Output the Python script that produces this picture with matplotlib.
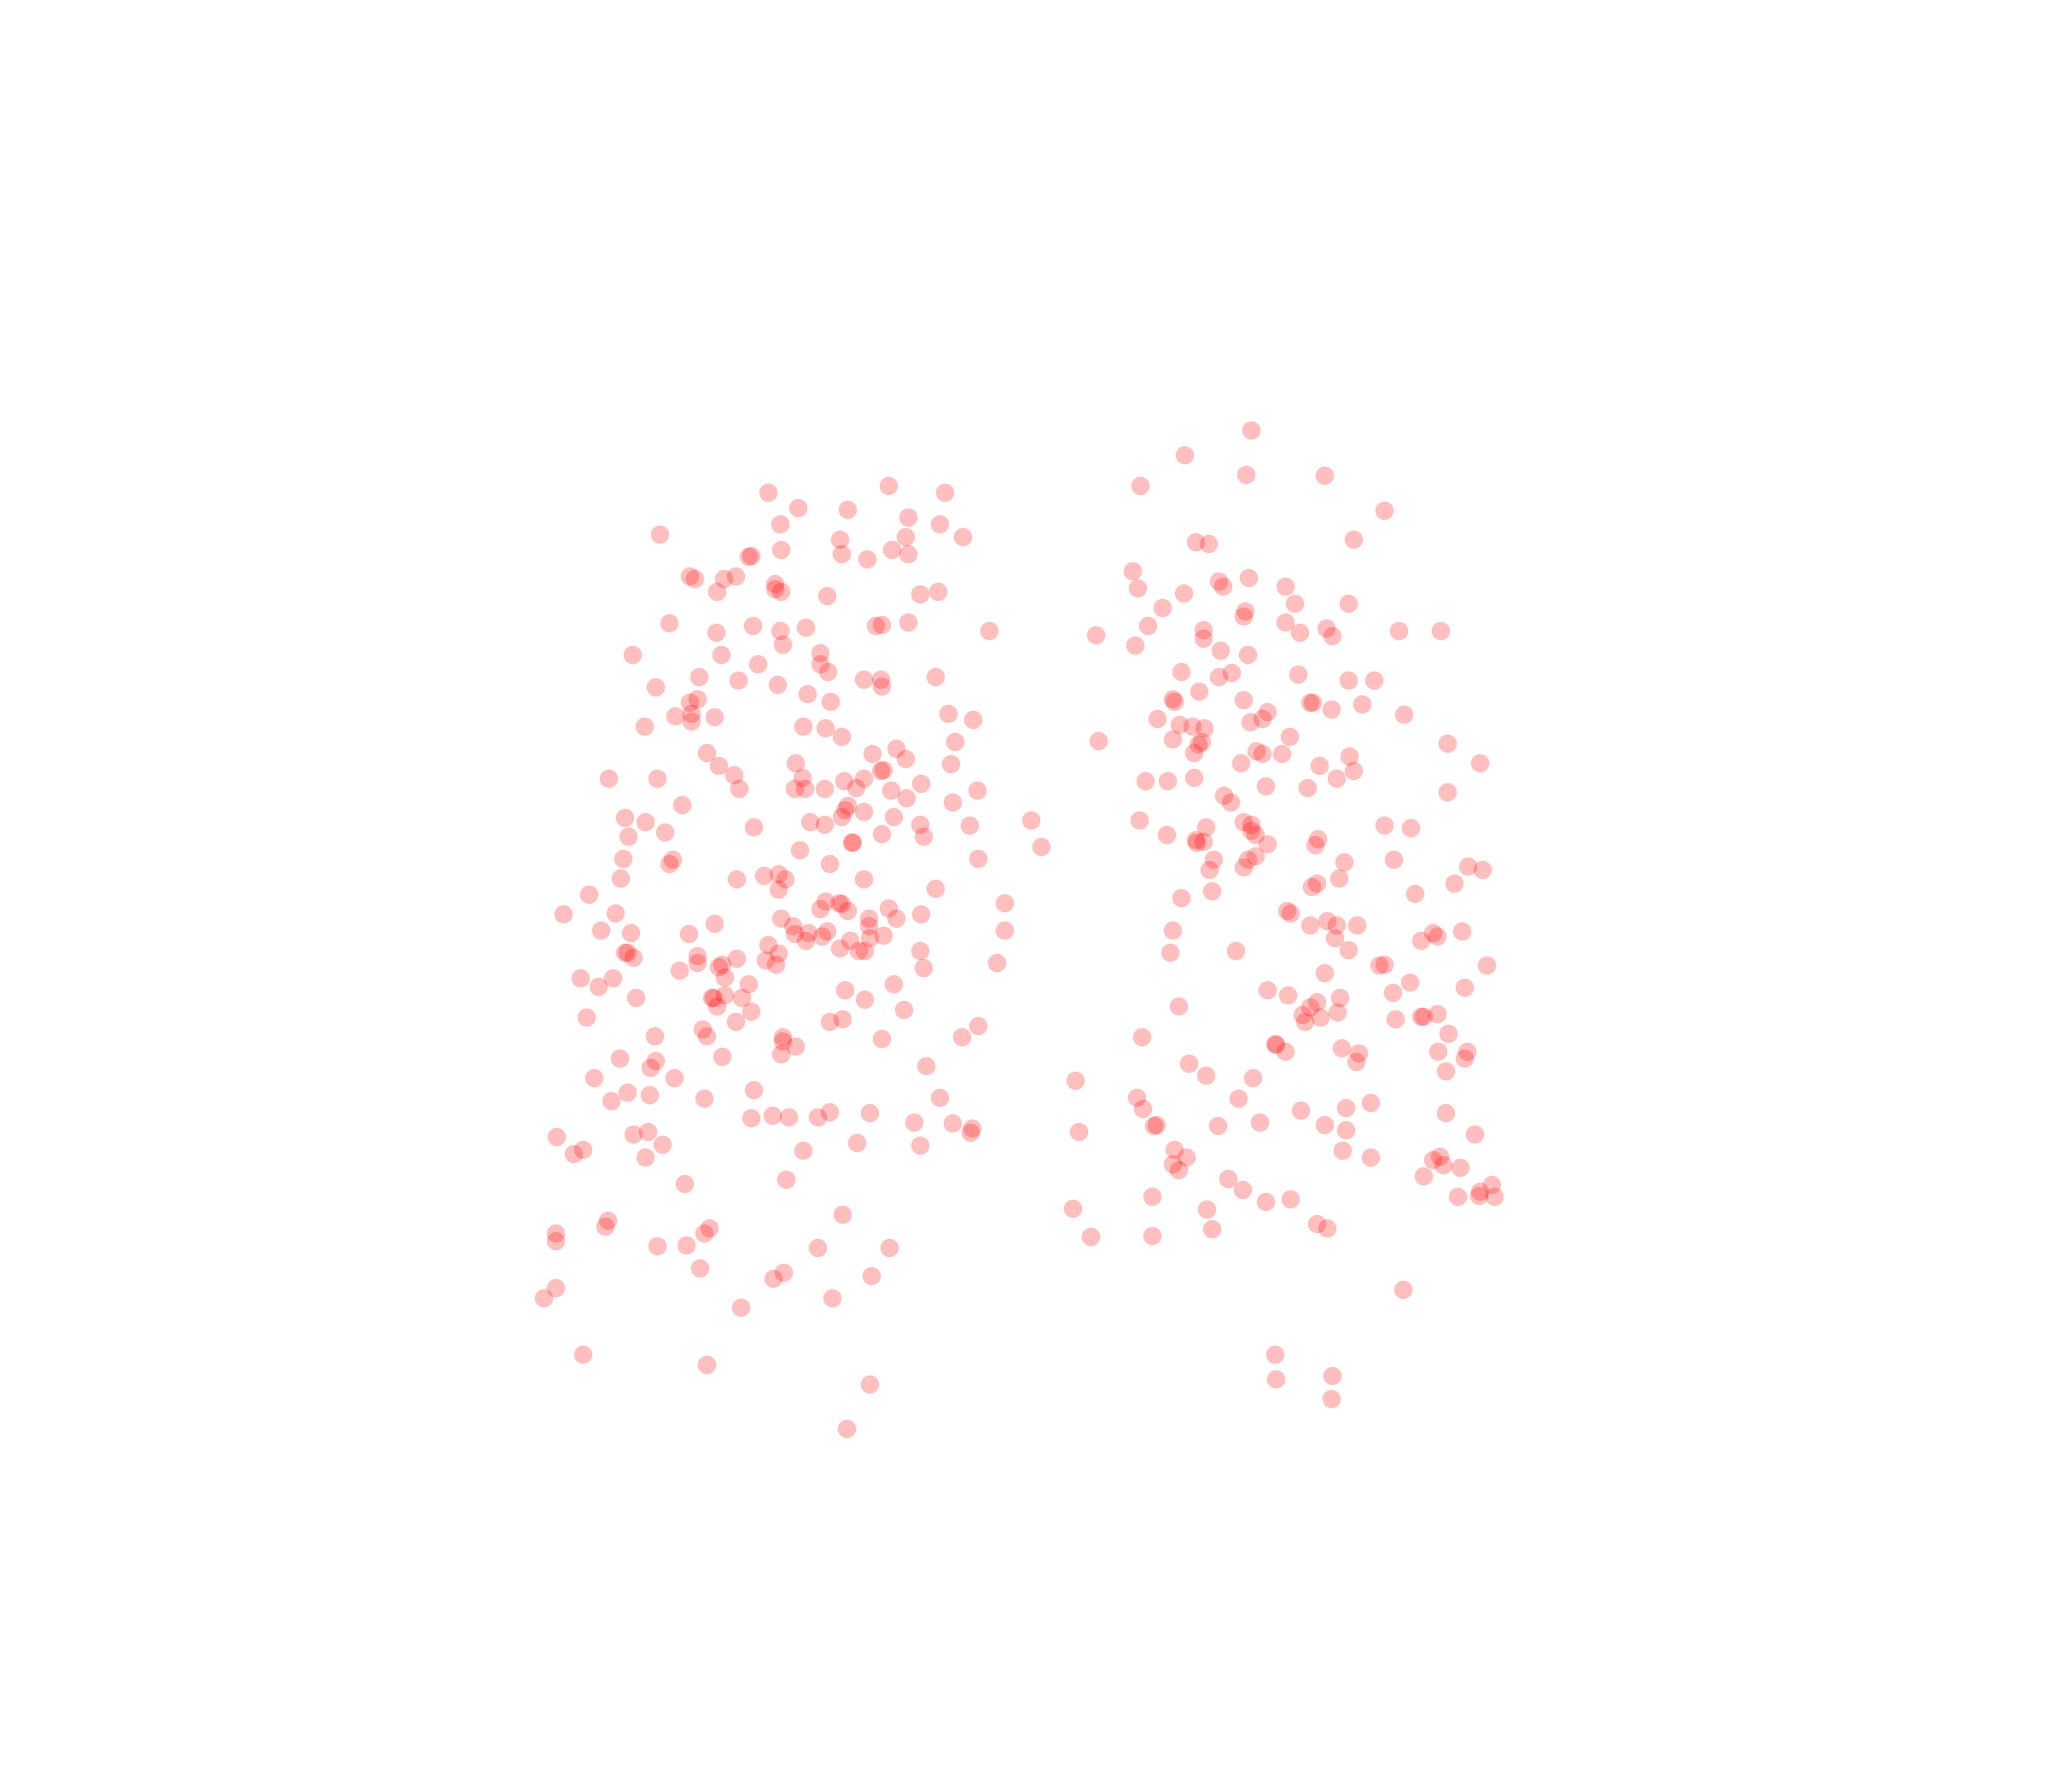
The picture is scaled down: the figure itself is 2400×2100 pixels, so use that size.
import matplotlib
matplotlib.use("Agg")
import matplotlib.pyplot as plt

left_points = [(588,377),(611,389),(649,390),(680,372),(723,377),(597,401),(695,396),(719,401),(505,409),(643,413),(693,411),(737,411),(598,421),(575,425),(573,426),(644,424),(664,428),(683,421),(695,424),(528,441),(532,443),(554,443),(563,441),(593,447),(593,451),(598,453),(549,453),(633,456),(704,455),(718,453),(512,477),(576,479),(617,480),(597,483),(548,484),(670,479),(675,478),(695,476),(757,483),(599,493),(484,501),(552,501),(628,500),(628,508),(580,508),(634,514),(535,518),(502,526),(565,521),(595,524),(661,520),(674,520),(675,525),(716,518),(618,531),(534,535),(528,538),(636,537),(529,546),(517,548),(529,552),(547,549),(493,556),(615,556),(632,557),(644,564),(726,546),(745,551),(731,568),(541,576),(686,573),(668,577),(693,581),(609,584),(550,586),(562,593),(676,589),(674,590),(728,585),(466,596),(503,596),(614,595),(608,604),(616,604),(566,604),(631,604),(646,598),(661,596),(655,603),(682,605),(705,600),(748,605),(694,611),(729,614),(522,616),(649,617),(647,620),(661,621),(644,625),(478,626),(494,629),(620,629),(631,631),(684,625),(704,631),(742,632),(577,633),(789,628),(481,640),(509,637),(675,638),(707,640),(652,645),(653,645),(797,648),(612,651),(477,657),(515,658),(512,661),(635,661),(749,657),(475,672),(564,673),(585,670),(596,669),(601,673),(661,673),(596,681),(716,680),(451,685),(632,690),(628,696),(642,691),(644,692),(649,697),(680,695),(769,691),(431,700),(471,699),(598,703),(665,703),(686,703),(705,700),(547,707),(460,712),(483,714),(527,715),(607,709),(608,715),(619,714),(633,713),(665,709),(769,712),(666,718),(676,716),(617,720),(629,717),(651,720),(588,723),(478,729),(480,729),(534,732),(596,730),(643,726),(657,728),(662,728),(704,728),(485,733),(534,737),(586,735),(594,738),(564,734),(763,737),(707,741),(550,740),(553,738),(520,743),(444,749),(469,749),(555,748),(458,755),(573,753),(684,753),(647,758),(487,764),(545,764),(546,764),(555,762),(568,764),(549,770),(662,765),(575,774),(692,773),(449,779),(635,782),(645,780),(563,782),(538,788),(749,785),(541,793),(501,793),(599,794),(599,797),(675,795),(736,794),(609,801),(598,807),(553,809),(474,810),(502,812),(498,817),(709,816),(455,825),(516,825),(577,834),(480,836),(497,838),(539,841),(468,843),(719,840),(575,856),(591,854),(604,855),(626,855),(635,851),(666,852),(700,859),(729,860),(744,864),(743,867),(485,868),(496,866),(426,870),(507,876),(446,880),(439,883),(494,886),(615,881),(656,875),(704,877),(602,903),(524,906),(645,930),(465,934),(463,939),(543,940),(539,944),(425,944),(425,950),(503,954),(525,953),(626,955),(681,955),(536,971),(600,974),(592,979),(667,977),(425,986),(416,994),(637,994),(567,1001),(446,1037),(541,1045),(666,1060),(648,1094)]

right_points = [(958,329),(907,348),(873,372),(954,363),(1014,364),(1060,391),(915,415),(925,416),(1036,413),(867,437),(871,450),(906,454),(933,445),(936,449),(956,442),(984,449),(991,462),(890,465),(1032,462),(953,468),(952,472),(879,479),(921,482),(984,476),(1015,481),(1020,487),(995,484),(1071,483),(1103,483),(839,486),(921,489),(869,494),(934,498),(955,501),(904,514),(933,518),(943,515),(994,516),(1032,521),(1052,521),(918,529),(898,535),(899,537),(952,536),(1003,538),(1005,538),(1019,543),(1043,539),(1075,547),(970,545),(966,550),(957,553),(886,550),(903,555),(913,556),(922,557),(898,566),(987,564),(841,567),(920,568),(917,570),(914,576),(962,575),(966,577),(981,577),(1033,579),(1108,569),(1133,584),(950,584),(1010,586),(1036,590),(877,598),(894,598),(914,595),(969,602),(1001,603),(1023,596),(1108,606),(937,609),(942,614),(872,628),(952,629),(958,631),(958,636),(961,639),(923,633),(893,639),(915,643),(921,644),(916,645),(1009,642),(1007,647),(970,646),(1060,632),(1080,634),(961,655),(955,658),(929,658),(952,664),(926,666),(1029,660),(1067,658),(1124,663),(1135,666),(1025,672),(1008,676),(1004,679),(1113,676),(928,682),(904,687),(1083,684),(985,697),(988,699),(1003,708),(1016,705),(1023,708),(1039,708),(898,712),(1097,714),(1100,717),(1119,713),(1022,718),(1088,720),(896,729),(946,728),(1032,727),(1060,738),(1056,739),(1138,739),(1014,745),(1079,752),(1121,756),(970,758),(986,762),(1066,760),(1026,764),(1008,767),(1003,771),(902,770),(1024,775),(997,777),(1011,779),(999,782),(1068,780),(1088,778),(1090,778),(1100,776),(1109,791),(874,794),(976,799),(977,800),(984,805),(1027,802),(1040,806),(1101,805),(1123,805),(1121,810),(1038,813),(910,814),(1107,820),(923,823),(959,825),(823,827),(870,840),(948,841),(875,849),(1049,844),(996,850),(1030,848),(1107,852),(885,861),(883,862),(932,862),(964,859),(826,866),(1014,861),(1030,865),(1129,868),(899,880),(908,886),(898,891),(902,896),(1028,881),(1049,886),(1102,885),(1097,888),(1105,892),(1118,894),(1090,900),(940,902),(951,911),(1142,907),(1133,912),(1132,915),(1144,916),(1116,916),(882,916),(988,918),(969,920),(821,925),(924,926),(1008,937),(1016,940),(928,941),(882,946),(835,947),(1074,987),(976,1037),(977,1056),(1020,1053),(1019,1071)]

fig = plt.figure(figsize=(24, 21), dpi=100, facecolor="white")
ax = fig.add_axes([0, 0, 1, 1])
ax.set_xlim(0, 1568)
ax.set_ylim(1372, 0)
ax.axis("off")
for pts in (left_points, right_points):
    xs, ys = zip(*pts)
    ax.scatter(xs, ys, s=240, color="red", alpha=0.25, linewidths=0)
fig.savefig("out.png", dpi=100, facecolor="white")
